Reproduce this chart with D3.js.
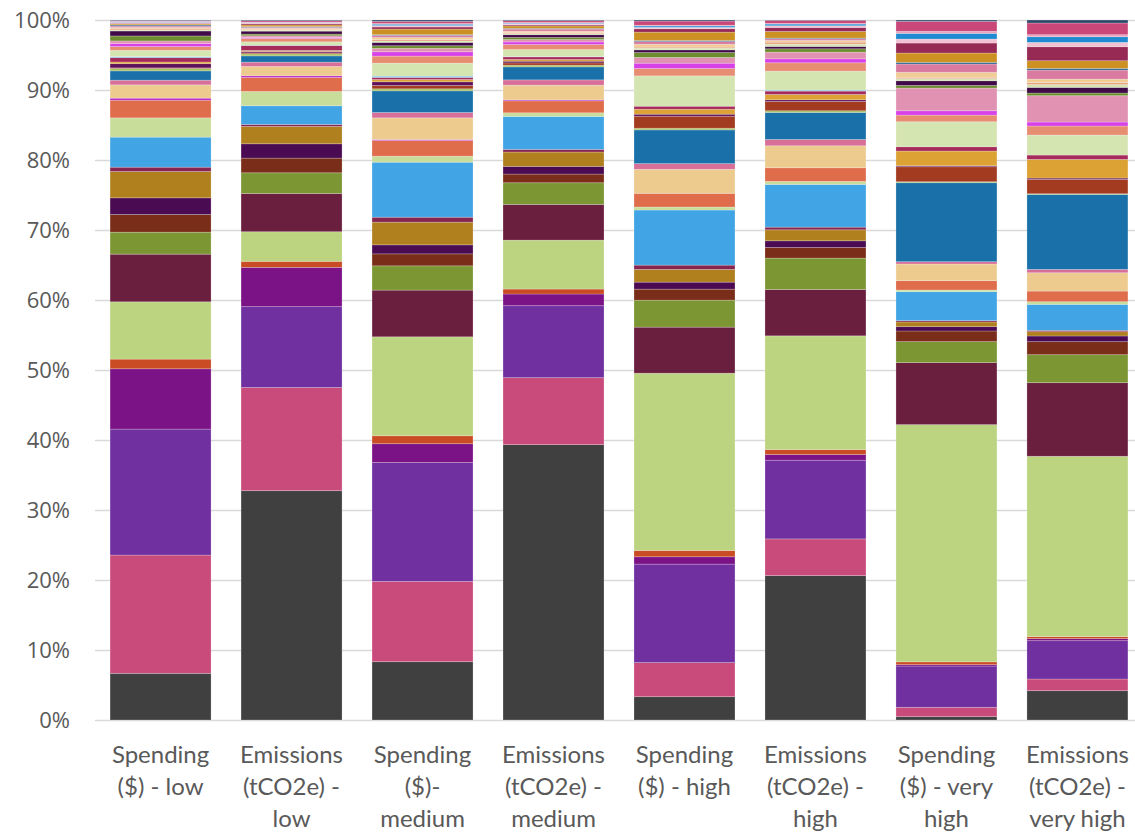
<!DOCTYPE html>
<html>
<head>
<meta charset="utf-8">
<script src="https://cdn.jsdelivr.net/npm/d3@7"></script>
<style>
  body { margin: 0; background: #ffffff; }
  svg { display: block; }
</style>
</head>
<body>
<svg id="chart" width="1135" height="834"></svg>
<script>
// Category labels (one entry per bar) and their wrapped lines
const categories = [
  "Spending ($) - low", "Emissions (tCO2e) - low",
  "Spending ($)- medium", "Emissions (tCO2e) - medium",
  "Spending ($) - high", "Emissions (tCO2e) - high",
  "Spending ($) - very high", "Emissions (tCO2e) - very high"
];
const categoryLines = [
  ["Spending", "($) - low"],
  ["Emissions", "(tCO2e) -", "low"],
  ["Spending", "($)-", "medium"],
  ["Emissions", "(tCO2e) -", "medium"],
  ["Spending", "($) - high"],
  ["Emissions", "(tCO2e) -", "high"],
  ["Spending", "($) - very", "high"],
  ["Emissions", "(tCO2e) -", "very high"]
];

// Segment colours, bottom of the stack to the top
const segmentColors = [
  "#404040", "#C94B7B", "#7030A0", "#7B1286", "#C94C24", "#BCD480", "#6B1F3F", "#7B9632",
  "#7A2D18", "#4A0B52", "#B07F1E", "#862550", "#41A4E4", "#C9DD9B", "#DF6C4B", "#B423C8",
  "#EDCB8F", "#D76F99", "#1A71A9", "#A4C160", "#A33B20", "#5E1058", "#DCA234", "#A52B5B",
  "#6FB8E6", "#D5E5B1", "#E78D71", "#D742E8", "#E191B1", "#6D8C30", "#3F0A47", "#D4E4B0",
  "#E8A080", "#F0CD92", "#D97BA1", "#2A6292", "#CC9122", "#962A55", "#F2C2D2", "#1F89D1",
  "#E8A3BB", "#C94879", "#2D4A6B"
];

// Share of each segment (percent), bottom to top, one array per bar
const spendingLow = [
  6.67, 16.9, 18.0, 8.62, 1.38, 8.19, 6.81, 3.14, 2.53, 2.38, 3.76, 0.62, 4.29, 2.76, 2.52, 0.29,
  1.9, 0.67, 1.33, 0.33, 0.1, 0.6, 0.24, 0.62, 0.15, 0.9, 0.53, 0.43, 0.38, 0.71, 0.71, 0.15,
  0.15, 0.2, 0.2, 0.15, 0.15, 0.1, 0.15, 0.1, 0.05, 0.1, 0.07
];
const emissionsLow = [
  32.81, 14.76, 11.57, 5.62, 0.86, 4.24, 5.48, 2.95, 2.1, 2.05, 2.48, 0.29, 2.67, 2.05, 2.0, 0.24,
  1.33, 0.62, 0.9, 0.29, 0.14, 0.2, 0.14, 0.71, 0.05, 0.48, 0.48, 0.14, 0.24, 0.24, 0.43, 0.15,
  0.1, 0.15, 0.15, 0.1, 0.24, 0.2, 0.1, 0.05, 0.05, 0.2, 0.1
];
const spendingMedium = [
  8.33, 11.48, 17.0, 2.67, 1.14, 14.14, 6.67, 3.47, 1.71, 1.29, 3.24, 0.71, 7.86, 0.86, 2.24, 0.14,
  3.1, 0.76, 3.1, 0.29, 0.48, 0.52, 0.33, 0.29, 0.19, 1.86, 1.0, 0.62, 0.48, 0.38, 0.48, 0.2,
  0.2, 0.3, 0.3, 0.1, 0.8, 0.3, 0.2, 0.2, 0.1, 0.3, 0.2
];
const emissionsMedium = [
  39.38, 9.57, 10.29, 1.67, 0.71, 7.0, 5.1, 3.1, 1.24, 1.1, 2.05, 0.38, 4.71, 0.52, 1.71, 0.14,
  2.1, 0.76, 1.86, 0.24, 0.33, 0.24, 0.24, 0.38, 0.05, 1.0, 0.71, 0.38, 0.33, 0.3, 0.4, 0.15,
  0.15, 0.2, 0.3, 0.1, 0.35, 0.15, 0.15, 0.1, 0.1, 0.25, 0.1
];
const spendingHigh = [
  3.33, 4.86, 14.05, 1.05, 0.9, 25.29, 6.57, 3.85, 1.57, 1.0, 1.81, 0.62, 7.86, 0.43, 1.95, 0,
  3.43, 0.81, 4.81, 0.24, 1.71, 0.29, 0.71, 0.43, 0, 4.33, 1.05, 0.76, 0.81, 0.71, 0.38, 0.25,
  0.15, 0.4, 0.38, 0.15, 1.2, 0.48, 0.2, 0.2, 0.1, 0.6, 0.15
];
const emissionsHigh = [
  20.62, 5.24, 11.24, 0.81, 0.71, 16.24, 6.62, 4.48, 1.52, 0.95, 1.57, 0.38, 6.1, 0.43, 1.95, 0,
  3.14, 0.9, 3.86, 0.24, 1.33, 0.24, 0.76, 0.48, 0.14, 2.71, 1.19, 0.57, 0.95, 0.48, 0.33, 0.33,
  0.29, 0.24, 0.24, 0.1, 0.95, 0.57, 0.24, 0.24, 0.1, 0.43, 0.05
];
const spendingVeryHigh = [
  0.48, 1.33, 5.9, 0.2, 0.4, 33.9, 8.86, 3.0, 1.52, 0.62, 0.67, 0.19, 4.14, 0.24, 1.33, 0,
  2.38, 0.33, 11.29, 0.14, 2.14, 0.14, 2.1, 0.62, 0, 3.57, 0.95, 0.62, 3.24, 0.38, 0.67, 0.3,
  0.2, 0.7, 1.19, 0.24, 1.33, 1.43, 0.57, 0.81, 0.29, 1.43, 0.19
];
const emissionsVeryHigh = [
  4.19, 1.67, 5.48, 0.29, 0.29, 25.77, 10.52, 4.0, 1.86, 0.81, 0.62, 0.19, 3.71, 0.38, 1.52, 0,
  2.62, 0.48, 10.71, 0.1, 2.05, 0.19, 2.67, 0.62, 0, 2.86, 1.29, 0.57, 3.76, 0.38, 0.81, 0.4,
  0.3, 0.48, 1.29, 0.24, 1.1, 2.0, 0.62, 0.81, 0.29, 1.67, 0.43
];
const barValues = [
  spendingLow, emissionsLow, spendingMedium, emissionsMedium,
  spendingHigh, emissionsHigh, spendingVeryHigh, emissionsVeryHigh
];

// Axis tick values (fractions of the whole)
const yTicks = [0, 0.1, 0.2, 0.3, 0.4, 0.5, 0.6, 0.7, 0.8, 0.9, 1.0];

// ---- layout ----
const W = 1135, H = 834;
const plotLeft = 95, plotTop = 20, plotBottom = 720;

const svg = d3.select("#chart");

const x = d3.scaleBand()
  .domain(categories)
  .range([plotLeft, plotLeft + 131 * categories.length])
  .paddingInner(0.229)
  .paddingOuter(0.115);

const y = d3.scaleLinear().domain([0, 1]).range([plotBottom, plotTop]);

// table for the stack: one row per bar, one column per segment
const keys = segmentColors.map((_, i) => "s" + i);
const table = categories.map((c, ci) => {
  const row = { category: c };
  keys.forEach((k, i) => { row[k] = barValues[ci][i]; });
  return row;
});

const stacked = d3.stack()
  .keys(keys)
  .offset(d3.stackOffsetExpand)(table);

// horizontal gridlines
svg.append("g")
  .attr("transform", `translate(${plotLeft},0)`)
  .call(d3.axisLeft(y).tickValues(yTicks).tickSize(-(W - plotLeft)).tickFormat(""))
  .call(g => g.select(".domain").remove())
  .call(g => g.selectAll("line").attr("stroke", "#D9D9D9").attr("stroke-width", 1.5));

// y-axis labels
svg.append("g")
  .attr("transform", `translate(${plotLeft},0)`)
  .call(d3.axisLeft(y).tickValues(yTicks).tickSize(0).tickPadding(25).tickFormat(d3.format(".0%")))
  .call(g => g.select(".domain").remove())
  .call(g => g.selectAll("text")
    .attr("fill", "#595959")
    .style("font-family", "'Open Sans', 'DejaVu Sans', sans-serif")
    .style("font-size", "22px"));

// stacked segments
svg.append("g")
  .selectAll("g")
  .data(stacked)
  .join("g")
  .attr("fill", (d, i) => segmentColors[i])
  .selectAll("rect")
  .data(d => d)
  .join("rect")
  .attr("x", d => x(d.data.category))
  .attr("width", x.bandwidth())
  .attr("y", d => y(d[1]))
  .attr("height", d => Math.max(0, y(d[0]) - y(d[1])))
  .attr("stroke", "rgba(255,255,255,0.28)")
  .attr("stroke-width", 0.8);

// category labels under the bars
const labels = svg.append("g")
  .selectAll("text")
  .data(categories)
  .join("text")
  .attr("x", d => x(d) + x.bandwidth() / 2)
  .attr("y", 763)
  .attr("text-anchor", "middle")
  .attr("fill", "#595959")
  .style("font-family", "Lato, 'Open Sans', sans-serif")
  .style("font-size", "24px");

labels.selectAll("tspan")
  .data((d, i) => categoryLines[i])
  .join("tspan")
  .attr("x", function () { return d3.select(this.parentNode).attr("x"); })
  .attr("dy", (d, i) => i === 0 ? 0 : 32)
  .text(d => d);
</script>
</body>
</html>
